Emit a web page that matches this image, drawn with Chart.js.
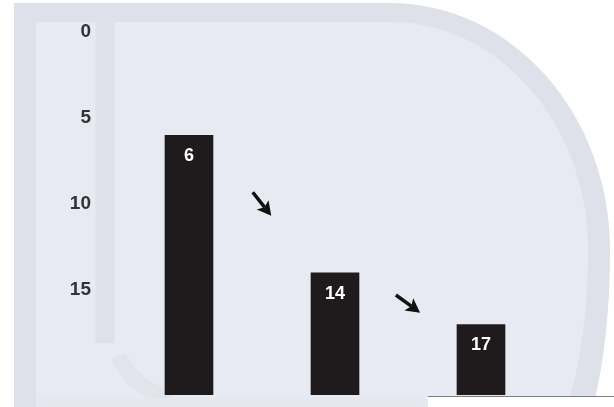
<!DOCTYPE html>
<html>
<head>
<meta charset="utf-8">
<script src="https://cdn.jsdelivr.net/npm/chart.js@4.4.1/dist/chart.umd.min.js"></script>
<style>
  html, body { margin: 0; padding: 0; background: #fff; }
  #wrap { width: 614px; height: 407px; position: relative; }
</style>
</head>
<body>
<div id="wrap"><canvas id="barChart"></canvas></div>
<script>
// ---- data ----
const categories = ['A', 'B', 'C'];
const values = [6, 14, 17];
const yTicks = [0, 5, 10, 15];
const yBase = 21.1;
// arrows between bars: x in category units, y in value units
const arrowX = [0.5, 1.5];
const arrowY = [10, 15.8];
const arrowAngle = [52, 36];

const bandColor = '#dfe1ea';
const lightColor = '#e8eaf3';

// ---- background panels ----
const backdrop = {
  id: 'backdrop',
  beforeDraw(chart) {
    const ctx = chart.ctx;
    ctx.save();
    ctx.fillStyle = '#fff';
    ctx.fillRect(0, 0, chart.width, chart.height);

    // outer panel (band colour)
    ctx.fillStyle = bandColor;
    ctx.beginPath();
    ctx.moveTo(14, 3);
    ctx.lineTo(390, 3);
    ctx.ellipse(390, 250, 220, 247, 0, -Math.PI / 2, 0, false);
    ctx.quadraticCurveTo(610, 340, 593, 407);
    ctx.lineTo(14, 407);
    ctx.closePath();
    ctx.fill();

    // inner light area
    ctx.fillStyle = lightColor;
    ctx.beginPath();
    ctx.moveTo(36, 22);
    ctx.lineTo(390, 22);
    ctx.ellipse(390, 250, 198, 228, 0, -Math.PI / 2, 0, false);
    ctx.quadraticCurveTo(588, 340, 567, 407);
    ctx.lineTo(36, 407);
    ctx.closePath();
    ctx.fill();

    // vertical band + J curve
    ctx.strokeStyle = bandColor;
    ctx.lineWidth = 19;
    ctx.beginPath();
    ctx.moveTo(105, 22);
    ctx.lineTo(105, 343);
    ctx.stroke();
    ctx.strokeStyle = '#e2e4ec';
    ctx.lineWidth = 16;
    ctx.beginPath();
    ctx.moveTo(118, 356);
    ctx.quadraticCurveTo(135, 390, 172, 398);
    ctx.stroke();

    // bottom strip
    ctx.fillStyle = '#e6e8ef';
    ctx.fillRect(36, 398, 540, 9);
    ctx.fillStyle = '#fff';
    ctx.fillRect(428, 397, 186, 10);
    ctx.fillStyle = '#7a7f78';
    ctx.fillRect(428, 396, 186, 1);
    ctx.restore();
  }
};

// ---- labels in bars + arrows ----
const overlay = {
  id: 'overlay',
  afterDatasetsDraw(chart) {
    const ctx = chart.ctx;
    const meta = chart.getDatasetMeta(0);
    ctx.save();
    ctx.fillStyle = '#fff';
    ctx.font = 'bold 18px "Liberation Sans", Arial, sans-serif';
    ctx.textAlign = 'center';
    ctx.textBaseline = 'middle';
    meta.data.forEach((bar, i) => {
      ctx.fillText(String(values[i]), bar.x, bar.y + 21);
    });

    const xs = chart.scales.x, ys = chart.scales.y;
    ctx.fillStyle = '#111';
    ctx.strokeStyle = '#111';
    arrowX.forEach((ax, i) => {
      const cx = xs.getPixelForValue(ax);
      const cy = ys.getPixelForValue(arrowY[i]);
      const a = arrowAngle[i] * Math.PI / 180;
      ctx.save();
      ctx.translate(cx, cy);
      ctx.rotate(a);
      ctx.lineWidth = 3.5;
      ctx.beginPath();
      ctx.moveTo(-15, 0);
      ctx.lineTo(4, 0);
      ctx.stroke();
      ctx.beginPath();
      ctx.moveTo(15, 0);
      ctx.lineTo(1, -7.5);
      ctx.lineTo(4, 0);
      ctx.lineTo(1, 7.5);
      ctx.closePath();
      ctx.fill();
      ctx.restore();
    });
    ctx.restore();
  }
};

new Chart(document.getElementById('barChart'), {
  type: 'bar',
  data: {
    labels: categories,
    datasets: [{
      data: values,
      base: yBase,
      backgroundColor: '#1f1b1c',
      borderWidth: 0,
      barThickness: 48
    }]
  },
  options: {
    responsive: true,
    maintainAspectRatio: false,
    animation: false,
    events: [],
    layout: { padding: { top: 32, bottom: 12, right: 60, left: 0 } },
    plugins: { legend: { display: false }, tooltip: { enabled: false } },
    scales: {
      x: { display: false, offset: true },
      y: {
        reverse: true,
        min: 0,
        max: yBase,
        afterBuildTicks(scale) { scale.ticks = yTicks.map(v => ({ value: v })); },
        afterFit(scale) {
          scale.width = 116;
          scale.paddingTop = 0;
          scale.paddingBottom = 0;
        },
        grid: { display: false, drawTicks: false },
        border: { display: false },
        ticks: {
          padding: 25,
          color: '#333',
          font: { family: '"Liberation Sans", Arial, sans-serif', size: 19, weight: 'bold' }
        }
      }
    }
  },
  plugins: [backdrop, overlay]
});
</script>
</body>
</html>
